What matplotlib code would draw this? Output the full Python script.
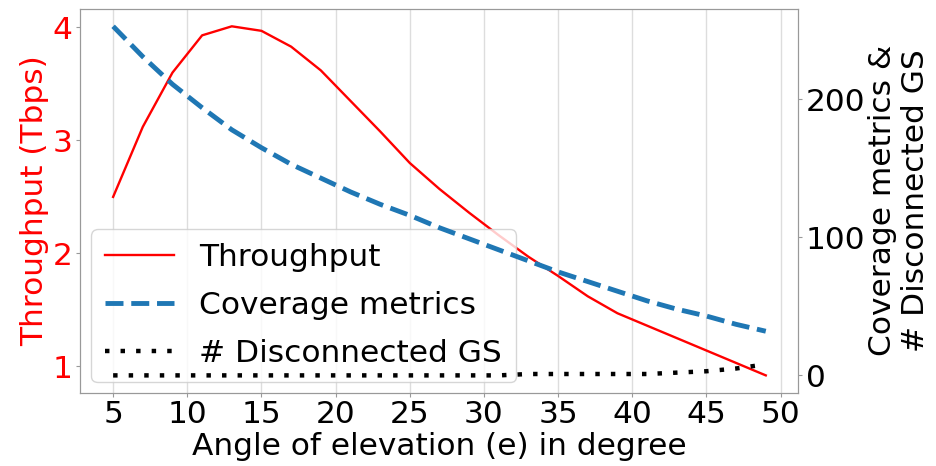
import matplotlib
matplotlib.use("Agg")
import matplotlib.pyplot as plt

# elevation angles (degree)
angles = [5, 7, 9, 11, 13, 15, 17, 19, 21, 23, 25, 27, 29, 31, 33, 35, 37, 39, 41, 43, 45, 47, 49]

# throughput in Tbps
throughput = [2.50, 3.12, 3.60, 3.93, 4.01, 3.97, 3.83, 3.62, 3.35, 3.08, 2.80, 2.57, 2.36,
              2.16, 1.97, 1.80, 1.62, 1.47, 1.36, 1.25, 1.14, 1.03, 0.92]

# coverage metrics and number of disconnected ground stations
coverage = [253, 231, 211, 194, 178, 165, 153, 143, 133, 124, 116, 107, 99,
            91, 83, 75, 68, 61, 54, 48, 43, 37, 32]
disconnected = [0, 0, 0, 0, 0, 0, 0, 0, 0, 0, 0, 0, 0, 0, 1, 1, 1, 1, 1, 2, 3, 5, 8]

x_ticks = [5, 10, 15, 20, 25, 30, 35, 40, 45, 50]
left_ticks = [1, 2, 3, 4]
right_ticks = [0, 100, 200]

fs = 22.5
plt.rcParams['font.size'] = fs

fig = plt.figure(figsize=(9.36, 4.66), dpi=100)
ax1 = fig.add_axes([0.086, 0.157, 0.767, 0.824])
ax2 = ax1.twinx()

l1, = ax1.plot(angles, throughput, color='red', lw=1.7, label='Throughput')
l2, = ax2.plot(angles, coverage, color='#1f77b4', lw=3.5, ls='--', label='Coverage metrics')
l3, = ax2.plot(angles, disconnected, color='black', lw=3.2, ls=(0, (1, 2.5)), label='# Disconnected GS')

ax1.grid(axis='x', color='#dddddd', lw=1)
ax1.set_xticks(x_ticks)
ax1.set_yticks(left_ticks)
ax2.set_yticks(right_ticks)

ax1.set_xlabel('Angle of elevation (e) in degree', labelpad=2)
ax1.set_ylabel('Throughput (Tbps)', color='red', labelpad=3)
ax2.set_ylabel('Coverage metrics &\n# Disconnected GS', labelpad=2, linespacing=1.15)

for ax in (ax1, ax2):
    for sp in ax.spines.values():
        sp.set_color('#999999')
    ax.tick_params(axis='both', color='#999999', length=3, pad=2.5)
ax1.tick_params(axis='y', labelcolor='red')

ax1.legend(handles=[l1, l2, l3], loc='lower left', fontsize=fs,
           borderaxespad=0.35, handlelength=2.2, handletextpad=0.8,
           labelspacing=0.6, borderpad=0.45)

fig.savefig('out.png', dpi=100)
